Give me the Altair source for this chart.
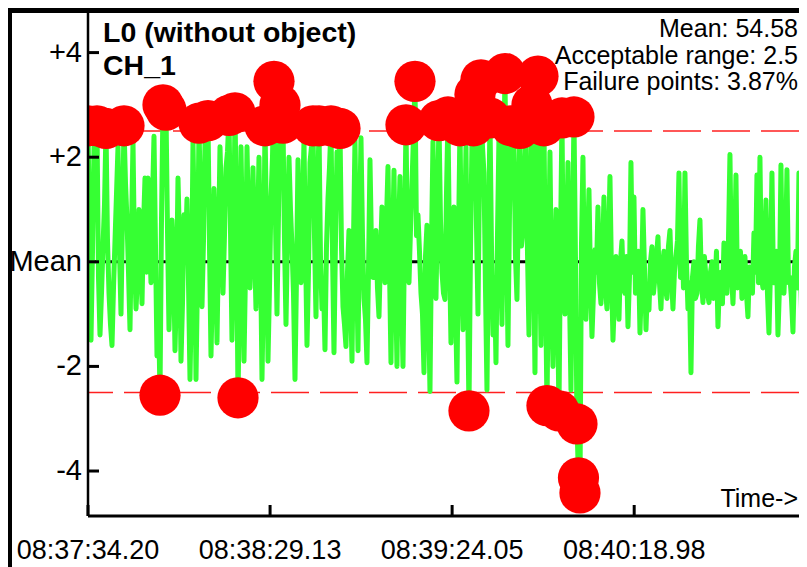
import altair as alt
import pandas as pd

# ---- data (one sample every ~0.45 s) ----
SIGNAL = [
    2.6, 0.5, -1.5, 0.2, 2.2, 1.4, 2.6, -0.3, -1.4, -0.6,
    0.3, 1.1, 2.55, 0.4, -0.6, -1.2, -1.6, -0.5, 0.4, 1.3,
    2.2, 0.2, -1.0, 0.9, 2.6, 1.5, 0.8, -0.2, -1.3, 0.6,
    2.3, 0.1, -0.9, -0.3, 1.0, 0.3, -0.8, 0.7, 1.6, -0.2,
    1.6, 0.5, -0.4, 1.2, 2.4, 0.3, -1.8, -0.9, -2.55, 0.8,
    3.0, 2.2, 2.9, 0.6, -1.3, -0.2, 0.8, 0.1, -1.7, -0.5,
    1.6, 0.4, -1.9, -0.8, 0.9, 0.2, 1.2, -0.4, -2.25, -0.6,
    2.3, 0.5, -2.25, -0.3, 2.65, 1.0, -0.86, 0.4, 2.3, 1.8,
    2.7, 0.3, -1.8, -0.4, 1.4, 0.2, -1.55, 0.3, 2.2, 1.1,
    -0.6, 0.5, 1.8, 2.1, 2.8, 0.6, -1.5, 0.2, 2.85, 0.9,
    -2.6, -0.7, 2.2, 0.4, -1.9, -0.2, 2.2, 0.8, -0.5, 0.5,
    1.8, 0.3, -0.9, 0.6, 2.0, 0.2, -2.25, -0.4, 2.6, 0.7,
    -1.9, -0.5, 1.2, 2.0, 3.45, 0.8, -1.0, 0.9, 3.0, 1.5,
    2.65, 0.4, -1.2, 0.5, 2.0, 1.0, 0.3, -0.6, -2.25, -0.3,
    1.95, 0.2, -0.4, 1.1, 2.3, 0.3, -1.6, -0.2, 1.9, 2.2,
    2.6, 0.5, -1.05, 1.0, 2.6, 0.1, -0.9, -0.4, -1.68, 0.3,
    1.2, 1.8, 2.6, 0.2, -1.74, 0.4, 2.1, 1.6, 2.55, 0.3,
    -0.86, -1.2, -1.62, -0.2, 0.6, -0.6, -1.9, 0.4, 2.33, 0.1,
    -1.7, 0.6, 2.37, 0.5, -0.7, -1.1, -1.93, -0.2, 1.95, 0.3,
    -0.3, 0.2, 0.6, -0.5, -1.05, 0.1, 1.05, 0.4, -0.4, 0.8,
    1.82, -0.1, -1.93, 0.2, 1.75, -0.3, -2.0, 0.5, 1.63, -0.6,
    -2.0, 0.4, 2.62, 0.2, -0.4, 0.6, 1.5, 2.4, 3.45, 0.5,
    0.9, 0.2, -0.6, -1.0, -2.12, 0.1, 0.7, -0.8, -2.48, 0.3,
    2.3, 0.6, -0.7, 1.0, 2.7, 0.8, -0.2, -0.6, -0.72, 1.3,
    2.77, 0.2, -1.55, -0.1, 1.05, -0.8, -2.3, 0.4, 2.6, 0.1,
    -1.3, 0.3, 2.2, -0.5, -2.85, 0.2, 2.3, 2.6, 3.2, 0.7,
    -1.0, 1.6, 3.48, 2.2, 1.7, -0.5, -2.45, 0.4, 2.75, 0.3,
    -1.4, -0.3, -1.93, 0.5, 2.4, 0.2, -1.2, 1.5, 3.6, 0.6,
    -1.6, 0.9, 2.6, 2.4, 2.3, 0.1, -0.72, 1.2, 2.55, 0.3,
    0.6, 1.5, 2.4, 0.2, -1.4, 1.0, 3.0, 0.4, -2.12, 1.2,
    3.55, 0.5, -1.6, 0.8, 2.6, -0.4, -2.75, -0.2, 2.1, -0.5,
    -2.0, -0.3, 1.0, -0.8, -2.85, 0.3, 2.75, -0.4, -1.0, 0.2,
    1.9, -0.6, -2.45, 0.4, 2.77, 0.1, -3.1, -4.13, -4.42, 0.3,
    2.0, -0.5, -1.1, 0.2, 1.38, -0.3, -1.43, -0.6, 0.23, -0.2,
    1.05, -0.4, -0.8, 0.1, 1.24, -0.5, -0.9, 0.3, 1.63, -0.2,
    -1.5, -0.7, 0.1, -0.3, -1.1, 0.0, 0.4, -0.5, -0.6, 0.1,
    -1.24, -0.3, 1.9, -0.2, 1.24, -0.6, -0.5, 0.2, -1.36, -0.4,
    1.0, -0.1, -1.3, -0.5, -0.92, 0.0, 0.29, -0.6, -0.3, 0.1,
    0.48, -0.4, -0.9, -0.1, 0.2, -0.5, -0.7, 0.3, 0.6, -0.3,
    -0.9, -0.2, 0.1, 0.4, 1.7, -0.3, 0.86, -0.5, 1.7, 0.0,
    -0.9, -0.4, -2.12, -0.3, 0.0, -0.7, -0.6, 0.3, 0.8, -0.4,
    -0.78, 0.1, -0.3, -0.6, -0.78, -0.2, 0.0, -0.7, -0.5, 0.2,
    -1.24, -0.4, -0.2, -0.8, 0.36, -0.3, -0.6, 0.4, 2.05, -0.2,
    -0.8, 0.0, 1.66, -0.5, -0.3, 0.2, -0.7, -0.3, 0.1, -0.6,
    -1.05, -0.1, -0.2, -0.6, 0.55, -0.2, 1.66, -0.4, 2.0, -0.3,
    -0.5, 0.1, 1.18, -0.6, -1.36, -0.2, 1.7, -0.4, -0.4, 0.2,
    -1.4, -0.5, 1.85, -0.3, -0.6, 0.1, 1.76, -0.4, -0.3, -0.7,
    -1.34, -0.1, 0.2, -0.5, 1.7, -0.2, -1.2, 0.0, 0.1,
]
SAMPLE_STEP_S = 0.4525
X_TICK_VALUES = [0, 54.93, 109.85, 164.78]
X_TICK_LABELS = ["08:37:34.20", "08:38:29.13", "08:39:24.05", "08:40:18.98"]
Y_TICK_VALUES = [4, 2, 0, -2, -4]
Y_TICK_LABELS = ["+4", "+2", "Mean", "-2", "-4"]
LIMITS = [2.5, -2.5]
X_DOMAIN = [0, 214.5]
Y_DOMAIN = [-4.86, 4.757]
TITLE_LINES = ["L0 (without object)", "CH_1"]
STAT_LINES = ["Mean: 54.58", "Acceptable range: 2.5", "Failure points: 3.87%"]

FONT = "Liberation Sans"
W, H = 711, 503

df = pd.DataFrame({"t": [i * SAMPLE_STEP_S for i in range(len(SIGNAL))], "v": SIGNAL})
one = pd.DataFrame({"a": [0]})
xt = pd.DataFrame({"t": X_TICK_VALUES, "label": X_TICK_LABELS})
yt = pd.DataFrame({"v": Y_TICK_VALUES, "label": Y_TICK_LABELS})

xs = alt.Scale(domain=X_DOMAIN, nice=False, zero=False)
ys = alt.Scale(domain=Y_DOMAIN, nice=False, zero=False)

limits = alt.Chart(pd.DataFrame({"lim": LIMITS})).mark_rule(
    color="#ff2020", strokeWidth=1.5, strokeDash=[38, 11]
).encode(y=alt.Y("lim:Q", scale=ys, axis=None))

mean_line = alt.Chart(pd.DataFrame({"m": [0]})).mark_rule(
    color="black", strokeWidth=3
).encode(y=alt.Y("m:Q", scale=ys, axis=None))

line = alt.Chart(df).mark_line(
    color="#36ff33", strokeWidth=5, strokeJoin="round", strokeCap="round", clip=True
).encode(
    x=alt.X("t:Q", scale=xs, axis=None),
    y=alt.Y("v:Q", scale=ys, axis=None),
)

fails = alt.Chart(df).transform_filter(
    f"abs(datum.v) > {LIMITS[0]}"
).mark_circle(size=1700, color="#ff0000", opacity=1, clip=True).encode(
    x=alt.X("t:Q", scale=xs, axis=None),
    y=alt.Y("v:Q", scale=ys, axis=None),
)

# axes drawn by hand: inward ticks, domain lines, labels
x_domain_line = alt.Chart(one).mark_rule(color="black", strokeWidth=3).encode(
    x=alt.value(0), x2=alt.value(W), y=alt.value(H))
y_domain_line = alt.Chart(one).mark_rule(color="black", strokeWidth=2.5).encode(
    x=alt.value(0), y=alt.value(0), y2=alt.value(H))

xticks = alt.Chart(xt).mark_rule(color="black", strokeWidth=3).encode(
    x=alt.X("t:Q", scale=xs, axis=None), y=alt.value(H), y2=alt.value(H - 11))
yticks = alt.Chart(yt).mark_rule(color="black", strokeWidth=3).encode(
    y=alt.Y("v:Q", scale=ys, axis=None), x=alt.value(0), x2=alt.value(11))

xlabels = alt.Chart(xt).mark_text(
    font=FONT, fontSize=27, align="center", baseline="middle", color="black"
).encode(x=alt.X("t:Q", scale=xs, axis=None), y=alt.value(H + 35), text="label:N")
ylabels = alt.Chart(yt).mark_text(
    font=FONT, fontSize=29, align="right", baseline="middle", color="black"
).encode(y=alt.Y("v:Q", scale=ys, axis=None), x=alt.value(-6), text="label:N")

frame_top = alt.Chart(one).mark_rule(color="black", strokeWidth=5).encode(
    x=alt.value(-80), x2=alt.value(W + 5), y=alt.value(-2.5))
frame_left = alt.Chart(one).mark_rule(color="black", strokeWidth=4).encode(
    x=alt.value(-78), y=alt.value(-5), y2=alt.value(H + 60))

title_txt = alt.Chart(one).mark_text(
    text=TITLE_LINES, font=FONT, fontSize=28.5, fontWeight="bold", align="left",
    baseline="alphabetic", lineHeight=33, color="black"
).encode(x=alt.value(15), y=alt.value(29))

stats_txt = alt.Chart(one).mark_text(
    text=STAT_LINES, font=FONT, fontSize=25, align="right",
    baseline="alphabetic", lineHeight=26.5, color="black"
).encode(x=alt.value(710), y=alt.value(24))

time_txt = alt.Chart(one).mark_text(
    text="Time->", font=FONT, fontSize=25, align="right",
    baseline="alphabetic", color="black"
).encode(x=alt.value(710), y=alt.value(494))

chart = alt.layer(
    limits, mean_line, line, fails, x_domain_line, y_domain_line, xticks, yticks,
    xlabels, ylabels, frame_top, frame_left, title_txt, stats_txt, time_txt
).properties(
    width=W, height=H,
    padding={"left": 80, "top": 5, "right": 0, "bottom": 51},
    autosize=alt.AutoSizeParams(type="none"),
    background="white",
).configure_view(stroke=None)

chart.save("out.html", embed_options={"renderer": "svg", "actions": False})
